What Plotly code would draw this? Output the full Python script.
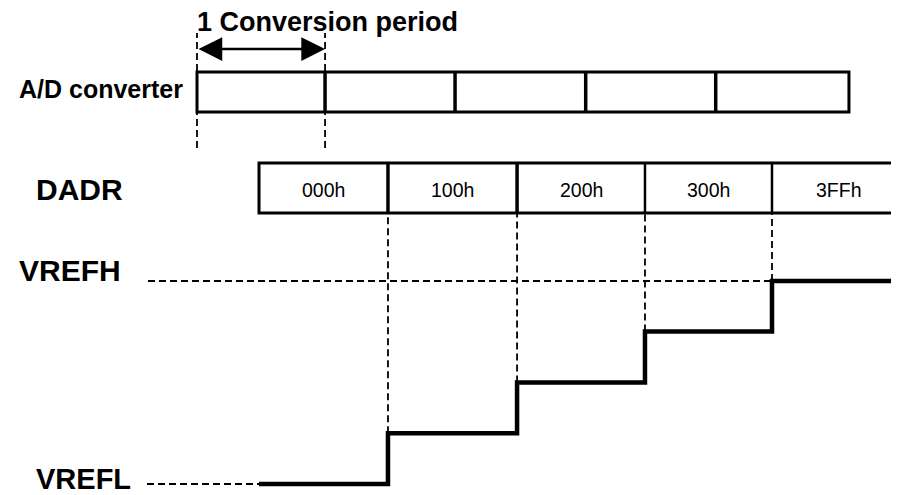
import plotly.graph_objects as go

# ---------------- data ----------------
# time axis in units of one A/D conversion period
ad_edges = [0.0, 0.985, 1.985, 2.99, 3.99, 5.015]          # A/D converter period boundaries
dadr_edges = [0.477, 1.469, 2.462, 3.446, 4.423, 5.45]     # DADR register update times
dadr_labels = ["000h", "100h", "200h", "300h", "3FFh"]
dadr_codes = [0x000, 0x100, 0x200, 0x300, 0x3FF]           # D/A code -> output level
VREFL_CODE = 0x000
VREFH_CODE = 0x3FF

# ---------------- layout helpers (pixel positions of rows / labels) ----------------
W, H = 899, 495
OFF = 8                         # page body margin shifts the figure
PX_PER_T = 130.0
T0_PX = 197.0
L_PX, H_PX = 484.0, 281.0      # pixel rows of VREFL / VREFH


def t_of(px):
    return (px - T0_PX) / PX_PER_T


def y_of(py):
    return (L_PX - py) * (VREFH_CODE - VREFL_CODE) / (L_PX - H_PX)


x_range = [t_of(OFF), t_of(W + OFF)]
y_range = [y_of(H + OFF), y_of(OFF)]

AD_ROW = (72, 112)
DADR_ROW = (163, 213)
FONT = "Liberation Sans, Arial, Helvetica, sans-serif"

fig = go.Figure()
shapes = []
dash = "7px,4px"

# A/D converter row
shapes.append(dict(type="rect", xref="x", yref="y", x0=ad_edges[0], x1=ad_edges[-1],
                   y0=y_of(AD_ROW[1]), y1=y_of(AD_ROW[0]), line=dict(color="black", width=3)))
for e in ad_edges[1:-1]:
    shapes.append(dict(type="line", xref="x", yref="y", x0=e, x1=e,
                       y0=y_of(AD_ROW[1]), y1=y_of(AD_ROW[0]), line=dict(color="black", width=3.5)))
# dashed markers of one conversion period
for e in ad_edges[:2]:
    shapes.append(dict(type="line", xref="x", yref="y", x0=e, x1=e,
                       y0=y_of(148), y1=y_of(33), line=dict(color="black", width=1.8, dash=dash)))

# DADR row
shapes.append(dict(type="rect", xref="x", yref="y", x0=dadr_edges[0], x1=dadr_edges[-1],
                   y0=y_of(DADR_ROW[1]), y1=y_of(DADR_ROW[0]), line=dict(color="black", width=3)))
for i, e in enumerate(dadr_edges[1:-1]):
    shapes.append(dict(type="line", xref="x", yref="y", x0=e, x1=e,
                       y0=y_of(DADR_ROW[1]), y1=y_of(DADR_ROW[0]),
                       line=dict(color="black", width=3.5 if i < 2 else 2.5)))

# dashed verticals from DADR change to the new output level
for e, c in zip(dadr_edges[1:5], dadr_codes[1:5]):
    shapes.append(dict(type="line", xref="x", yref="y", x0=e, x1=e,
                       y0=c, y1=y_of(DADR_ROW[1]), line=dict(color="black", width=1.8, dash=dash)))

# VREFH / VREFL reference dashed lines
shapes.append(dict(type="line", xref="x", yref="y", x0=t_of(148), x1=dadr_edges[4],
                   y0=VREFH_CODE, y1=VREFH_CODE, line=dict(color="black", width=1.8, dash=dash)))
shapes.append(dict(type="line", xref="x", yref="y", x0=t_of(147), x1=dadr_edges[0],
                   y0=VREFL_CODE, y1=VREFL_CODE, line=dict(color="black", width=1.8, dash=dash)))

# staircase output
stair_x = dadr_edges[:5] + [dadr_edges[-1]]
stair_y = dadr_codes + [dadr_codes[-1]]
fig.add_trace(go.Scatter(x=stair_x, y=stair_y, mode="lines", line_shape="hv",
                         line=dict(color="black", width=4.5), hoverinfo="skip", showlegend=False))

annotations = []
# double arrow for one conversion period
annotations.append(dict(x=ad_edges[1], y=y_of(49), ax=ad_edges[0], ay=y_of(49),
                        xref="x", yref="y", axref="x", ayref="y", text="",
                        showarrow=True, arrowhead=2, startarrowhead=2, arrowside="end+start",
                        arrowwidth=2.5, arrowsize=1.9, startarrowsize=1.9,
                        arrowcolor="black", standoff=0, startstandoff=0))


def label(text, px, py, size, anchor="left", bold=True, pad=1):
    annotations.append(dict(x=t_of(px), y=y_of(py), xref="x", yref="y", text=f"<b>{text}</b>" if bold else text,
                            showarrow=False, xanchor=anchor, yanchor="middle", borderpad=pad,
                            font=dict(family=FONT, size=size, color="black")))


label("1 Conversion period", 195, 22, 27)
label("A/D converter", 185, 89, 25, anchor="right")
label("DADR", 34, 189, 30)
label("VREFH", 17, 270, 30)
label("VREFL", 35, 479, 29, pad=0)
for i, lab in enumerate(dadr_labels):
    cx = (dadr_edges[i] + dadr_edges[i + 1]) / 2
    annotations.append(dict(x=cx, y=y_of(190), xref="x", yref="y", text=lab, showarrow=False,
                            xanchor="center", yanchor="middle",
                            font=dict(family=FONT, size=19.5, color="black")))

fig.update_layout(
    width=W, height=H, margin=dict(l=0, r=0, t=0, b=0),
    paper_bgcolor="white", plot_bgcolor="white",
    xaxis=dict(range=x_range, visible=False, fixedrange=True),
    yaxis=dict(range=y_range, visible=False, fixedrange=True),
    shapes=shapes, annotations=annotations, showlegend=False,
)
fig.write_html("out.html")
